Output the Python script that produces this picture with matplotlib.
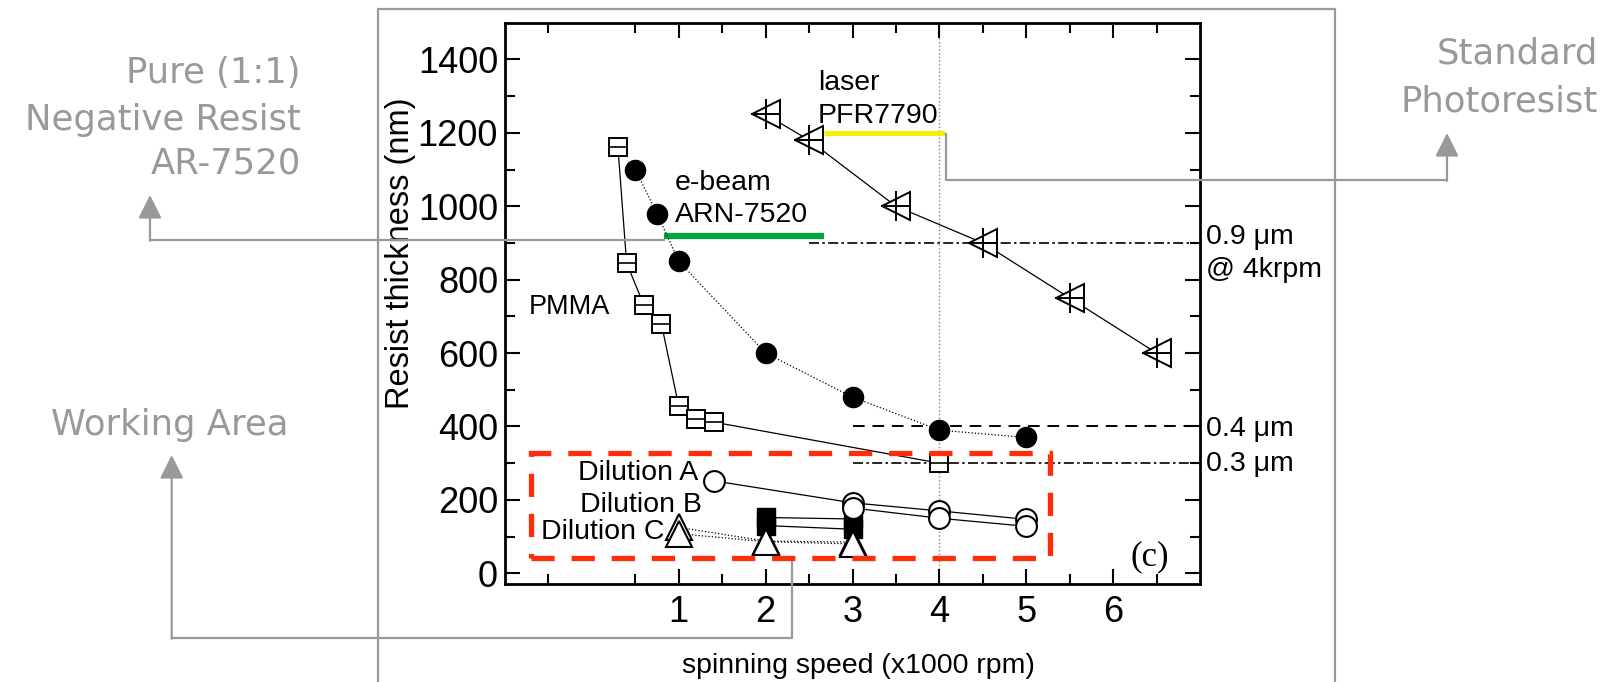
import matplotlib
matplotlib.use('Agg')
import matplotlib.pyplot as plt
from matplotlib.patches import Rectangle

# ---- data: spinning speed (x1000 rpm) vs resist thickness (nm) ----
pmma_x = [0.3, 0.4, 0.6, 0.8, 1.0, 1.2, 1.4, 4.0]
pmma_y = [1160, 845, 730, 680, 455, 420, 412, 300]

ebeam_x = [0.5, 0.75, 1, 2, 3, 4, 5]
ebeam_y = [1100, 980, 850, 600, 480, 390, 370]

laser_x = [2, 2.5, 3.5, 4.5, 5.5, 6.5]
laser_y = [1250, 1180, 1000, 900, 750, 600]

dilA_x = [1.4, 3, 4, 5]
dilA_y = [252, 192, 170, 147]
dilB_x = [3, 4, 5]
dilB_y = [178, 150, 128]
dilB_fill_x = [2, 3]
dilB_fill_y1 = [152, 148]
dilB_fill_y2 = [130, 120]
dilC_x = [1, 2, 3]
dilC_y1 = [125, 88, 85]
dilC_y2 = [108, 86, 80]

# reference levels (nm) and the speed ranges they span
ref_09, ref_09_x = 900, [2.5, 7]
ref_04, ref_04_x = 400, [3, 7]
ref_03, ref_03_x = 300, [3, 7]
ebeam_bar, ebeam_bar_x = 920, [0.83, 2.67]
laser_bar, laser_bar_x = 1200, [2.67, 4.06]
work_x = [-0.7, 5.27]
work_y = [43, 328]

plt.rcParams['font.family'] = ['Liberation Sans', 'DejaVu Sans']
GRAY = '#999999'
RED = '#ff2d0a'

fig = plt.figure(figsize=(16.04, 6.82), dpi=100)
ax = fig.add_axes([505/1604, 1 - 584.3/682, 695/1604, 561.6/682])
ax.set_xlim(-1, 7)
ax.set_ylim(-30, 1500)

# reference lines
ax.axvline(4, color='#888888', ls=':', lw=1, zorder=1)
ax.plot(ref_09_x, [ref_09]*2, color='k', lw=1.2, ls=(0, (6, 2, 1.5, 2)), zorder=2)
ax.plot(ref_04_x, [ref_04]*2, color='k', lw=1.4, ls=(0, (6, 4)), zorder=2)
ax.plot(ref_03_x, [ref_03]*2, color='k', lw=1.2, ls=(0, (6, 2, 1.5, 2)), zorder=2)
ax.plot(ebeam_bar_x, [ebeam_bar]*2, color='#00a640', lw=4.5, solid_capstyle='butt', zorder=3)
ax.plot(laser_bar_x, [laser_bar]*2, color='#f5ef00', lw=3.5, solid_capstyle='butt', zorder=3)

# PMMA
ax.plot(pmma_x, pmma_y, color='k', lw=0.9, zorder=4)
ax.plot(pmma_x, pmma_y, ls='none', marker='s', ms=13, mfc='white', mec='k', mew=1.4, zorder=5)
ax.plot(pmma_x, pmma_y, ls='none', marker='_', ms=13, mec='k', mew=1.2, zorder=6)

# e-beam ARN-7520
ax.plot(ebeam_x, ebeam_y, color='k', lw=0.9, ls=':', zorder=4)
ax.plot(ebeam_x, ebeam_y, ls='none', marker='o', ms=14.5, color='k', zorder=5)

# laser PFR7790
ax.plot(laser_x, laser_y, color='k', lw=0.9, zorder=4)
ax.plot(laser_x, laser_y, ls='none', marker='<', ms=20, mfc='white', mec='k', mew=1.4, zorder=5)
ax.plot(laser_x, laser_y, ls='none', marker='+', ms=22, mec='k', mew=1.4, zorder=6)

# dilutions
ax.plot(dilB_fill_x, dilB_fill_y1, color='k', lw=0.9, zorder=4)
ax.plot(dilB_fill_x, dilB_fill_y2, color='k', lw=0.9, zorder=4)
ax.plot(dilC_x, dilC_y1, color='k', lw=0.9, ls=':', zorder=4)
ax.plot(dilC_x, dilC_y2, color='k', lw=0.9, ls=':', zorder=4)
ax.plot(dilA_x, dilA_y, color='k', lw=0.9, zorder=4)
ax.plot(dilB_x, dilB_y, color='k', lw=0.9, zorder=4)
ax.plot(dilB_fill_x, dilB_fill_y1, ls='none', marker='s', ms=13, color='k', zorder=5)
ax.plot(dilB_fill_x, dilB_fill_y2, ls='none', marker='s', ms=13, color='k', zorder=5)
ax.plot(dilC_x, dilC_y1, ls='none', marker='^', ms=19, mfc='white', mec='k', mew=1.5, zorder=6)
ax.plot(dilC_x, dilC_y2, ls='none', marker='^', ms=19, mfc='white', mec='k', mew=1.5, zorder=6)
ax.plot(dilA_x, dilA_y, ls='none', marker='o', ms=15, mfc='white', mec='k', mew=1.5, zorder=6)
ax.plot(dilB_x, dilB_y, ls='none', marker='o', ms=15, mfc='white', mec='k', mew=1.5, zorder=6)

# working area box
ax.add_patch(Rectangle((work_x[0], work_y[0]), work_x[1] - work_x[0], work_y[1] - work_y[0],
                       fill=False, ec=RED, lw=3.8, ls=(0, (4.4, 3.2)), zorder=7, clip_on=False))

# axes styling
ax.set_xticks([1, 2, 3, 4, 5, 6])
ax.set_xticks([-0.5, 0.5, 1.5, 2.5, 3.5, 4.5, 5.5, 6.5], minor=True)
ax.set_yticks(range(0, 1401, 200))
ax.set_yticks(range(100, 1500, 200), minor=True)
ax.tick_params(which='both', direction='in', top=True, right=True, width=1.5, labelsize=26)
ax.tick_params(which='major', length=11)
ax.tick_params(which='minor', length=7)
ax.tick_params(axis='x', pad=8)
ax.tick_params(axis='y', pad=5)
for s in ax.spines.values():
    s.set_linewidth(2)

ax.set_xlabel('spinning speed (x1000 rpm)', fontsize=20.5)
ax.xaxis.set_label_coords(0.509, -0.122)
ax.set_ylabel('Resist thickness (nm)', fontsize=23.5)
ax.yaxis.set_label_coords(-0.128, 0.59)

# ---- overlay in pixel coordinates for labels and the grey call-outs ----
ov = fig.add_axes([0, 0, 1, 1], zorder=5)
ov.set_xlim(0, 1604)
ov.set_ylim(682, 0)
ov.axis('off')
ov.patch.set_alpha(0)

fs = 20.5
ov.text(818, 90, 'laser', fontsize=fs)
ov.text(818, 123, 'PFR7790', fontsize=fs)
ov.text(675, 190, 'e-beam', fontsize=fs)
ov.text(675, 222, 'ARN-7520', fontsize=fs)
ov.text(610, 314, 'PMMA', fontsize=19.5, ha='right')
ov.text(698, 480, 'Dilution A', fontsize=fs, ha='right')
ov.text(702, 512, 'Dilution B', fontsize=fs, ha='right')
ov.text(541, 539, 'Dilution C', fontsize=fs)
ov.text(1131, 565, '(c)', fontsize=25, family='Liberation Serif')
ov.text(1206, 244, '0.9 μm', fontsize=fs)
ov.text(1206, 277, '@ 4krpm', fontsize=fs)
ov.text(1206, 436, '0.4 μm', fontsize=fs)
ov.text(1206, 471, '0.3 μm', fontsize=fs)

gfs = 25.5
gkw = dict(fontsize=gfs, color=GRAY, family='DejaVu Sans')
ov.text(301, 83, 'Pure (1:1)', ha='right', **gkw)
ov.text(301, 130, 'Negative Resist', ha='right', **gkw)
ov.text(301, 174, 'AR-7520', ha='right', **gkw)
ov.text(1598, 63, 'Standard', ha='right', **gkw)
ov.text(1598, 112, 'Photoresist', ha='right', **gkw)
ov.text(170, 435, 'Working Area', ha='center', **gkw)

lkw = dict(color=GRAY, lw=1.6, solid_capstyle='butt')
ov.plot([378, 378, 1335, 1335], [682, 9.3, 9.3, 682], **lkw)
ov.plot([665, 150], [240, 240], **lkw)
ov.plot([946, 946, 1447], [133, 180, 180], **lkw)
ov.plot([791.7, 791.7, 171.7], [561, 638, 638], **lkw)
akw = dict(arrowstyle='-|>', color=GRAY, lw=1.6, mutation_scale=36, shrinkA=0, shrinkB=0)
ov.annotate('', xy=(150, 195), xytext=(150, 240.8), arrowprops=akw)
ov.annotate('', xy=(1447, 133), xytext=(1447, 180.8), arrowprops=akw)
ov.annotate('', xy=(171.7, 455), xytext=(171.7, 638.8), arrowprops=akw)

fig.savefig('out.png', dpi=100)
